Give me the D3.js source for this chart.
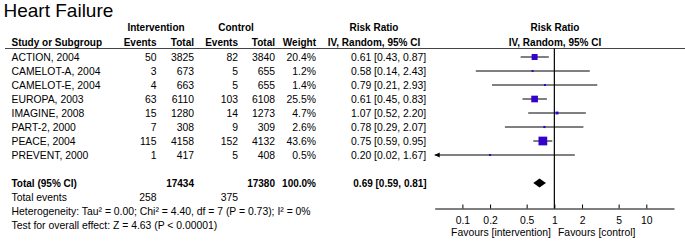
<!DOCTYPE html>
<html><head><meta charset="utf-8">
<script src="https://cdn.jsdelivr.net/npm/d3@7"></script>
<style>
html,body{margin:0;padding:0;background:#fff;}
text{font-family:"Liberation Sans",Arial,sans-serif;fill:#000;}
</style></head>
<body><svg id="chart" width="685" height="241"></svg>
<script>
const studies = ["ACTION, 2004","CAMELOT-A, 2004","CAMELOT-E, 2004","EUROPA, 2003","IMAGINE, 2008","PART-2, 2000","PEACE, 2004","PREVENT, 2000"];
const intEvents = [50,3,4,63,15,7,115,1];
const intTotal = [3825,673,663,6110,1280,308,4158,417];
const ctlEvents = [82,5,5,103,14,9,152,5];
const ctlTotal = [3840,655,655,6108,1273,309,4132,408];
const weights = [20.4,1.2,1.4,25.5,4.7,2.6,43.6,0.5];
const rr = [0.61,0.58,0.79,0.61,1.07,0.78,0.75,0.20];
const ciLow = [0.43,0.14,0.21,0.45,0.52,0.29,0.59,0.02];
const ciHigh = [0.87,2.43,2.93,0.83,2.20,2.07,0.95,1.67];
const totalRR = [0.69,0.59,0.81];
const totalN = [17434,17380];
const totalEvents = [258,375];
const totalWeight = "100.0%";
const axisTicks = [0.1,0.2,0.5,1,2,5,10];
const heterogeneity = "Heterogeneity: Tau\u00B2 = 0.00; Chi\u00B2 = 4.40, df = 7 (P = 0.73); I\u00B2 = 0%";
const overall = "Test for overall effect: Z = 4.63 (P < 0.00001)";

const svg = d3.select("#chart");
const FS = 10.4, FB = 10;
const x = d3.scaleLog().domain([0.05,20]).range([434.7,674]);
const y = d3.scaleLinear().domain([0,1]).range([57,71]);
const f2 = d3.format(".2f");
const blue = "#3300cc";

function txt(tx, ty, s, anchor, bold, size){
  return svg.append("text").attr("x",tx).attr("y",ty)
    .attr("text-anchor",anchor||"start")
    .attr("font-size",(size||(bold?FB:FS))+"px")
    .attr("font-weight",bold?"bold":"normal")
    .text(s);
}
// title
txt(3.5,17,"Heart Failure","start",false,19);
// headers
txt(156,31,"Intervention","middle",true);
txt(236,31,"Control","middle",true);
txt(374,31,"Risk Ratio","middle",true);
txt(555,31,"Risk Ratio","middle",true);
txt(11.5,45.5,"Study or Subgroup","start",true);
txt(156.5,45.5,"Events","end",true);
txt(194,45.5,"Total","end",true);
txt(238,45.5,"Events","end",true);
txt(275,45.5,"Total","end",true);
txt(316,45.5,"Weight","end",true);
txt(374,45.5,"IV, Random, 95% CI","middle",true);
txt(555,45.5,"IV, Random, 95% CI","middle",true);
svg.append("line").attr("x1",5).attr("x2",685).attr("y1",48.5).attr("y2",48.5)
  .attr("stroke","#444").attr("stroke-width",1);

// rows
studies.forEach((s,i)=>{
  const by = y(i)+3.7;
  txt(11.5,by,s);
  txt(156.5,by,intEvents[i],"end");
  txt(194,by,intTotal[i],"end");
  txt(238,by,ctlEvents[i],"end");
  txt(275,by,ctlTotal[i],"end");
  txt(316,by,weights[i].toFixed(1)+"%","end");
  txt(351,by,`${f2(rr[i])} [${f2(ciLow[i])}, ${f2(ciHigh[i])}]`,"start");
});

// null line
svg.append("line").attr("x1",x(1)).attr("x2",x(1)).attr("y1",48.5).attr("y2",208.5)
  .attr("stroke","#000").attr("stroke-width",1.2);

// CIs and squares
const dmin = x.domain()[0], dmax = x.domain()[1];
studies.forEach((s,i)=>{
  const cy = y(i);
  const lo = Math.max(ciLow[i],dmin), hi = Math.min(ciHigh[i],dmax);
  svg.append("line").attr("x1",x(lo)).attr("x2",x(hi)).attr("y1",cy).attr("y2",cy)
    .attr("stroke","#000").attr("stroke-width",1);
  if(ciLow[i] < dmin){
    const ax = x(dmin);
    svg.append("path").attr("d",`M${ax},${cy} L${ax+5},${cy-2.5} L${ax+5},${cy+2.5} Z`).attr("fill","#000");
  }
  const side = Math.max(2, 1.32*Math.sqrt(weights[i]));
  svg.append("rect").attr("x",x(rr[i])-side/2).attr("y",cy-side/2)
    .attr("width",side).attr("height",side).attr("fill",blue);
});

// total
const ty = y(9);
txt(11.5,ty+3.5,"Total (95% CI)","start",true);
txt(194,ty+3.5,totalN[0],"end",true);
txt(275,ty+3.5,totalN[1],"end",true);
txt(316,ty+3.5,totalWeight,"end",true);
txt(390,ty+3.5,`${f2(totalRR[0])} [${f2(totalRR[1])}, ${f2(totalRR[2])}]`,"middle",true);
svg.append("path")
  .attr("d",`M${x(totalRR[1])},${ty} L${x(totalRR[0])},${ty-4.5} L${x(totalRR[2])},${ty} L${x(totalRR[0])},${ty+4.5} Z`)
  .attr("fill","#000");

txt(11.5,y(10)+3.7,"Total events");
txt(156.5,y(10)+3.7,totalEvents[0],"end");
txt(238,y(10)+3.7,totalEvents[1],"end");
txt(11.5,y(11)+3.7,heterogeneity);
txt(11.5,y(12)+3.7,overall);

// axis
const axis = d3.axisBottom(x).tickValues(axisTicks).tickFormat(d=>String(d))
  .tickSizeInner(-4).tickSizeOuter(0).tickPadding(8);
const g = svg.append("g").attr("transform","translate(0,208.5)").call(axis);
g.select(".domain").attr("stroke","#000");
g.selectAll(".tick line").attr("stroke","#000");
g.selectAll(".tick text").attr("font-size",FS+"px").attr("font-family","Liberation Sans, Arial, sans-serif").attr("fill","#000");

txt(551,235.5,"Favours [intervention]","end");
txt(558,235.5,"Favours [control]","start");
</script>
</body></html>
